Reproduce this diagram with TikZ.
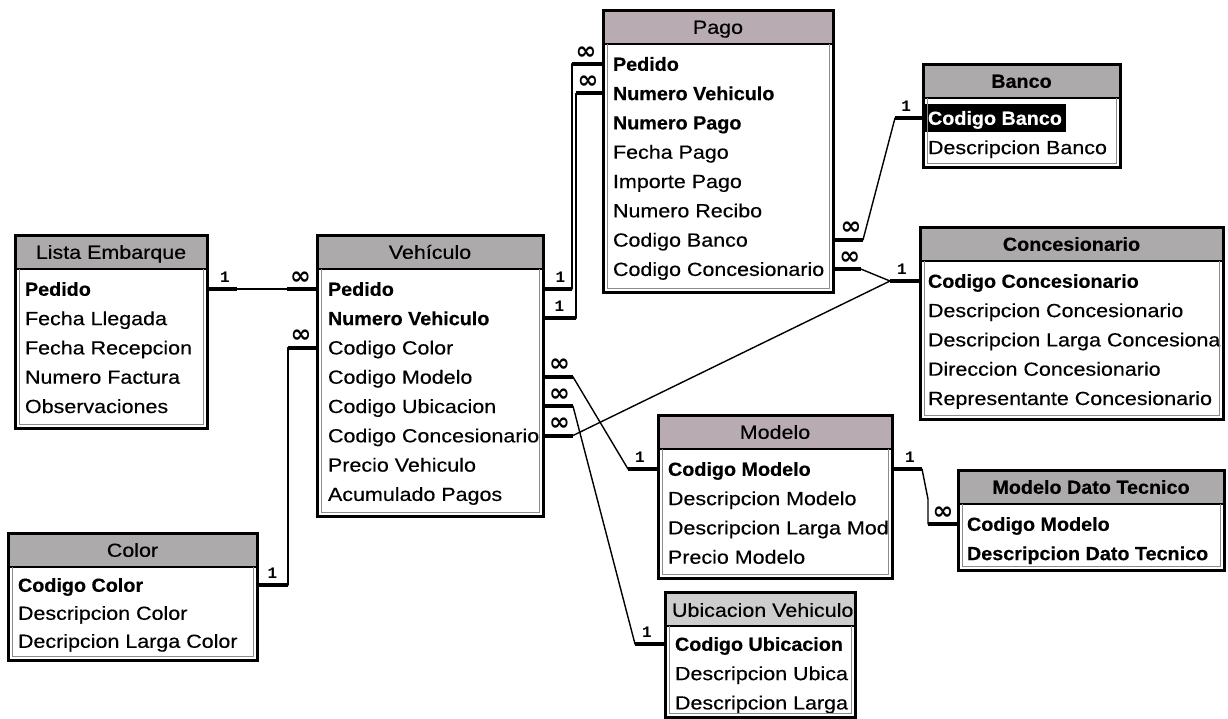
\documentclass[tikz,border=0pt]{standalone}
\usepackage{fontspec}
\usetikzlibrary{calc}
\newfontfamily\rowfont{Liberation Sans}[FakeStretch=1.13, FakeBold=0.35]
\newfontfamily\keyfont{Liberation Sans}[FakeStretch=1.04, FakeBold=0.4]
\newfontfamily\onefont{Liberation Mono}
\newfontfamily\manyfont{DejaVu Sans}
\newcommand\rowsize{\fontsize{19}{22}\selectfont}
\definecolor{hdrgray}{RGB}{172,170,171}
\definecolor{hdrpink}{RGB}{184,172,178}
\definecolor{hdrlight}{RGB}{205,205,205}

\tikzset{
  tframe/.style={fill=white, draw=none, inner sep=0pt, outer sep=0pt, anchor=north west},
  thead/.style={inner sep=0pt, outer sep=0pt, anchor=north west, minimum height=34pt,
    text height=13.6pt, text depth=0pt, font=\rowfont\rowsize},
  tsep/.style={line width=1.5pt},
  tborder/.style={draw=black, line width=3pt},
  tinner/.style={draw=black!45, line width=0.7pt},
  field/.style={anchor=west, inner sep=0pt, outer sep=0pt, text height=13.6pt,
    text depth=0pt, font=\rowfont\rowsize},
  keyfield/.style={field, font=\keyfont\bfseries\rowsize},
  rel/.style={line width=1.4pt, line join=round},
  relend/.style={line width=4pt},
  one/.style={font=\onefont\bfseries\fontsize{16}{16}\selectfont, inner sep=0pt},
  many/.style={font=\manyfont\bfseries\fontsize{25}{25}\selectfont, inner sep=0pt},
}

% frame, clip and title bar of one table: name, left, top, width, bottom, bar colour, title
\newcommand\erdframe[7]{%
  \node[tframe, minimum width={#4*1pt}, minimum height={(#5-#3)*1pt}] (#1) at (#2,#3) {};
  \clip (#1.north west) rectangle (#1.south east);
  \node[thead, fill=#6, minimum width={#4*1pt}] (#1-h) at (#2,#3) {#7};
  \draw[tsep] (#1-h.south west) -- (#1-h.south east);
}
% outer frame line with the thin inner rim below the title bar
\newcommand\erdborder[1]{%
  \draw[tinner] ([shift={(4,0)}]#1-h.south west) |- ([shift={(-4,-4)}]#1.south east)
    -- ([shift={(-4,0)}]#1-h.south east);
  \draw[tborder] (#1.north west) rectangle (#1.south east);
}

\begin{document}
\begin{tikzpicture}[x=1pt, y=-1pt]
\useasboundingbox[fill=white] (0,0) rectangle (1228,718);

% ---------- Lista Embarque
\begin{scope}
  \erdframe{lista}{15}{235}{192}{428}{hdrgray}{Lista Embarque}
  \node[keyfield] (lista-pedido) at (25,289) {Pedido};
  \node[field] (lista-llegada) at (25,318.3) {Fecha Llegada};
  \node[field] (lista-recepcion) at (25,347.6) {Fecha Recepcion};
  \node[field] (lista-factura) at (25,376.9) {Numero Factura};
  \node[field] (lista-obs) at (25,406.2) {Observaciones};
\end{scope}
\erdborder{lista}

% ---------- Vehículo
\begin{scope}
  \erdframe{veh}{317}{235}{226}{516}{hdrgray}{Vehículo}
  \node[keyfield] (veh-pedido) at (328,289) {Pedido};
  \node[keyfield] (veh-numero) at (328,318.3) {Numero Vehiculo};
  \node[field] (veh-color) at (328,347.6) {Codigo Color};
  \node[field] (veh-modelo) at (328,376.9) {Codigo Modelo};
  \node[field] (veh-ubic) at (328,406.2) {Codigo Ubicacion};
  \node[field] (veh-conces) at (328,435.5) {Codigo Concesionario};
  \node[field] (veh-precio) at (328,464.8) {Precio Vehiculo};
  \node[field] (veh-acum) at (328,494.1) {Acumulado Pagos};
\end{scope}
\erdborder{veh}

% ---------- Pago
\begin{scope}
  \erdframe{pago}{603}{10}{230}{292}{hdrpink}{Pago}
  \node[keyfield] (pago-pedido) at (613,64) {Pedido};
  \node[keyfield] (pago-numero) at (613,93.3) {Numero Vehiculo};
  \node[keyfield] (pago-npago) at (613,122.6) {Numero Pago};
  \node[field] (pago-fecha) at (613,151.9) {Fecha Pago};
  \node[field] (pago-importe) at (613,181.2) {Importe Pago};
  \node[field] (pago-recibo) at (613,210.5) {Numero Recibo};
  \node[field] (pago-banco) at (613,239.8) {Codigo Banco};
  \node[field] (pago-conces) at (613,269.1) {Codigo Concesionario};
\end{scope}
\erdborder{pago}

% ---------- Banco
\begin{scope}
  \erdframe{banco}{923}{64}{197}{167}{hdrgray}{\keyfont\bfseries Banco}
  \node[keyfield, fill=black, text=white, inner xsep=4pt, inner ysep=7pt]
    (banco-codigo) at (924,118) {Codigo Banco};
  \node[field] (banco-desc) at (928,147.3) {Descripcion Banco};
\end{scope}
\erdborder{banco}

% ---------- Concesionario
\begin{scope}
  \erdframe{conces}{920}{227}{303}{419}{hdrgray}{\keyfont\bfseries Concesionario}
  \node[keyfield] (conces-codigo) at (928,281) {Codigo Concesionario};
  \node[field] (conces-desc) at (928,310.3) {Descripcion Concesionario};
  \node[field] (conces-larga) at (928,339.6) {Descripcion Larga Concesiona};
  \node[field] (conces-dir) at (928,368.9) {Direccion Concesionario};
  \node[field] (conces-rep) at (928,398.2) {Representante Concesionario};
\end{scope}
\erdborder{conces}

% ---------- Modelo
\begin{scope}
  \erdframe{modelo}{658}{415}{234}{578}{hdrpink}{Modelo}
  \node[keyfield] (modelo-codigo) at (668,469) {Codigo Modelo};
  \node[field] (modelo-desc) at (668,498.3) {Descripcion Modelo};
  \node[field] (modelo-larga) at (668,527.6) {Descripcion Larga Mod};
  \node[field] (modelo-precio) at (668,556.9) {Precio Modelo};
\end{scope}
\erdborder{modelo}

% ---------- Ubicacion Vehiculo
\begin{scope}
  \erdframe{ubic}{665}{592}{190}{717}{hdrlight}{}
  \node[field] (ubic-title) at (672,610) {Ubicacion Vehiculo};
  \node[keyfield] (ubic-codigo) at (675,644) {Codigo Ubicacion};
  \node[field] (ubic-desc) at (675,673.3) {Descripcion Ubica};
  \node[field] (ubic-larga) at (675,702.6) {Descripcion Larga};
\end{scope}
\erdborder{ubic}

% ---------- Modelo Dato Tecnico
\begin{scope}
  \erdframe{mdt}{958}{470}{266}{570}{hdrgray}{\keyfont\bfseries Modelo Dato Tecnico}
  \node[keyfield] (mdt-codigo) at (967,524) {Codigo Modelo};
  \node[keyfield] (mdt-desc) at (967,553.3) {Descripcion Dato Tecnico};
\end{scope}
\erdborder{mdt}

% ---------- Color
\begin{scope}
  \erdframe{color}{8}{533}{249}{660}{hdrgray}{Color}
  \node[keyfield] (color-codigo) at (18,585) {Codigo Color};
  \node[field] (color-desc) at (18,613) {Descripcion Color};
  \node[field] (color-larga) at (18,641) {Decripcion Larga Color};
\end{scope}
\erdborder{color}

% ================= relationships
% Lista Embarque 1 -- oo Vehiculo
\draw[rel] (lista.east |- lista-pedido) -- (veh.west |- veh-pedido);
\draw[relend] (lista.east |- lista-pedido) -- ++(30,0)
  node[one, pos=.6, above=5pt] (r1-one) {1};
\draw[relend] (veh.west |- veh-pedido) -- ++(-30,0)
  node[many, pos=.55, above=3pt] (r1-many) {∞};

% Color 1 -- oo Vehiculo
\draw[rel] (color.east |- color-codigo) -- ++(31,0) |- (veh.west |- veh-color);
\draw[relend] (color.east |- color-codigo) -- ++(31,0)
  node[one, pos=.5, above=5pt] (r2-one) {1};
\draw[relend] (veh.west |- veh-color) -- ++(-29,0)
  node[many, pos=.55, above=3pt] (r2-many) {∞};

% Vehiculo 1 -- oo Pago (Pedido)
\draw[rel] (veh.east |- veh-pedido) -- ++(29,0) |- (pago.west |- pago-pedido);
\draw[relend] (veh.east |- veh-pedido) -- ++(29,0)
  node[one, pos=.6, above=5pt] (r3-one) {1};
\draw[relend] (pago.west |- pago-pedido) -- ++(-31,0)
  node[many, pos=.55, above=3pt] (r3-many) {∞};

% Vehiculo 1 -- oo Pago (Numero Vehiculo)
\draw[rel] (veh.east |- veh-numero) -- ++(33,0) |- (pago.west |- pago-numero);
\draw[relend] (veh.east |- veh-numero) -- ++(33,0)
  node[one, pos=.5, above=5pt] (r4-one) {1};
\draw[relend] (pago.west |- pago-numero) -- ++(-27,0)
  node[many, pos=.55, above=3pt] (r4-many) {∞};

% Banco 1 -- oo Pago
\draw[rel] (pago.east |- pago-banco) -- ++(30,0)
  -- ($(banco.west |- banco-codigo)+(-28,0)$) -- (banco.west |- banco-codigo);
\draw[relend] (pago.east |- pago-banco) -- ++(30,0)
  node[many, pos=.6, above=3pt] (r5-many) {∞};
\draw[relend] (banco.west |- banco-codigo) -- ++(-28,0)
  node[one, pos=.6, above=5pt] (r5-one) {1};

% Concesionario 1 -- oo Pago
\draw[rel] (pago.east |- pago-conces) -- ++(28,0)
  -- ($(conces.west |- conces-codigo)+(-30,0)$) -- (conces.west |- conces-codigo);
\draw[relend] (pago.east |- pago-conces) -- ++(28,0)
  node[many, pos=.6, above=3pt] (r6-many) {∞};
\draw[relend] (conces.west |- conces-codigo) -- ++(-30,0)
  node[one, pos=.6, above=5pt] (r6-one) {1};

% Concesionario 1 -- oo Vehiculo
\draw[rel] (veh.east |- veh-conces) -- ++(30,0)
  -- ($(conces.west |- conces-codigo)+(-30,0)$);
\draw[relend] (veh.east |- veh-conces) -- ++(30,0)
  node[many, pos=.55, above=3pt] (r7-many) {∞};

% Modelo 1 -- oo Vehiculo
\draw[rel] (veh.east |- veh-modelo) -- ++(30,0)
  -- ($(modelo.west |- modelo-codigo)+(-30,0)$) -- (modelo.west |- modelo-codigo);
\draw[relend] (veh.east |- veh-modelo) -- ++(30,0)
  node[many, pos=.55, above=3pt] (r8-many) {∞};
\draw[relend] (modelo.west |- modelo-codigo) -- ++(-30,0)
  node[one, pos=.6, above=5pt] (r8-one) {1};

% Ubicacion Vehiculo 1 -- oo Vehiculo
\draw[rel] (veh.east |- veh-ubic) -- ++(30,0)
  -- ($(ubic.west |- ubic-codigo)+(-30,0)$) -- (ubic.west |- ubic-codigo);
\draw[relend] (veh.east |- veh-ubic) -- ++(30,0)
  node[many, pos=.55, above=3pt] (r9-many) {∞};
\draw[relend] (ubic.west |- ubic-codigo) -- ++(-30,0)
  node[one, pos=.6, above=5pt] (r9-one) {1};

% Modelo 1 -- oo Modelo Dato Tecnico
\draw[rel] (modelo.east |- modelo-codigo) -- ++(30,0) -- ++(6,30) |- (mdt.west |- mdt-codigo);
\draw[relend] (modelo.east |- modelo-codigo) -- ++(30,0)
  node[one, pos=.6, above=5pt] (r10-one) {1};
\draw[relend] (mdt.west |- mdt-codigo) -- ++(-30,0)
  node[many, pos=.5, above=3pt] (r10-many) {∞};
\end{tikzpicture}
\end{document}
